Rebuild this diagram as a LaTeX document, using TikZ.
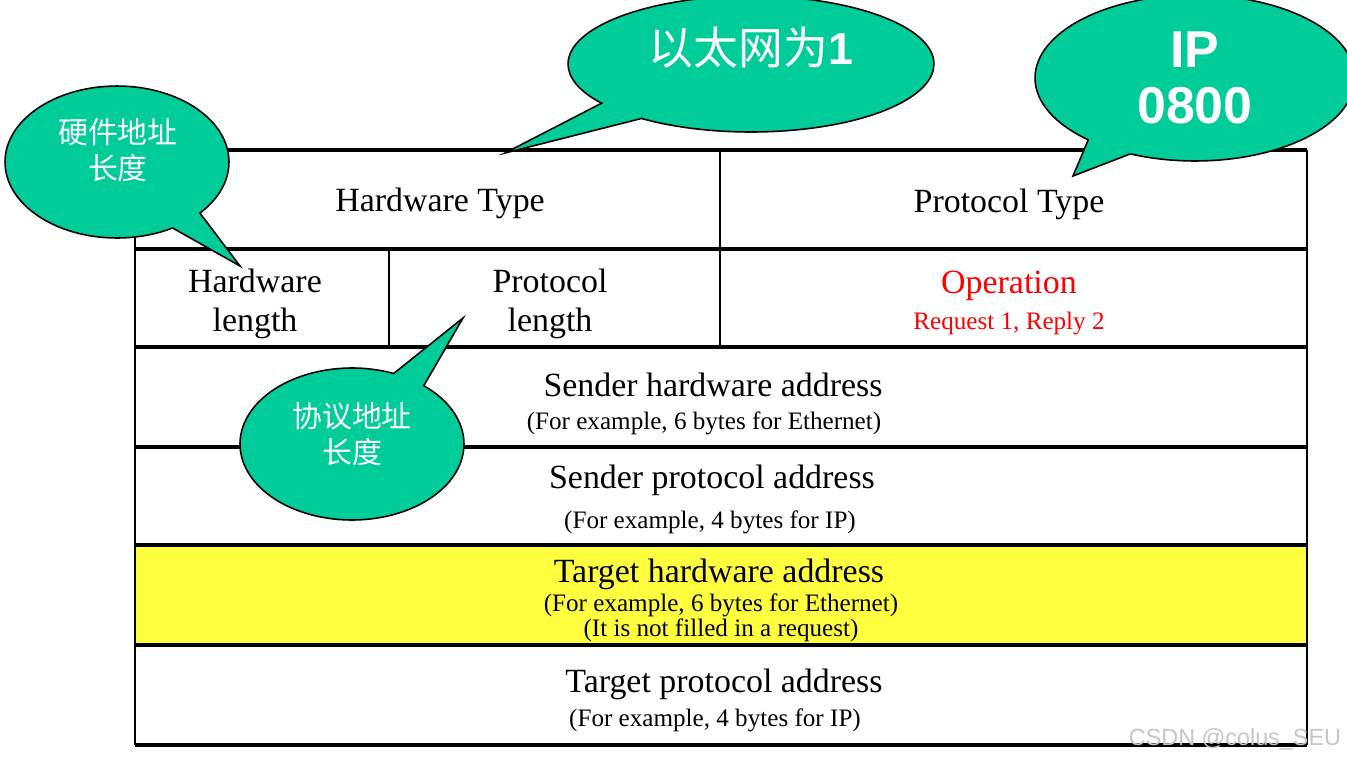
\documentclass[tikz,border=0pt]{standalone}
\usepackage{fontspec}
\setmainfont{Liberation Serif}
\newfontfamily\cjk{Noto Sans CJK SC}
\newfontfamily\arialfont{Liberation Sans}
\usepackage{xcolor}
\usepackage{tikz}
\usetikzlibrary{shapes.callouts}
\definecolor{tagcolor}{RGB}{0,204,153}
\definecolor{rowcolor}{RGB}{255,255,64}

\begin{document}
\begin{tikzpicture}[x=0.02cm, y=-0.02cm,
    hline/.style={line width=1.9pt},
    vline/.style={line width=1.2pt},
    cellbig/.style={font=\fontsize{19.3}{22.1}\selectfont, align=center},
    cellsmall/.style={font=\fontsize{14.3}{16}\selectfont},
    tag/.style={ellipse callout, draw=black, line width=0.9pt, fill=tagcolor, callout pointer arc=18},
    tagtext/.style={text=white, align=center}]
    \clip (0,0) rectangle (1347,762);

    % 1. Khung bang
    \fill[rowcolor] (135,545) rectangle (1307,645);
    \foreach \y in {150,249,347,447,545,645,745} {
        \draw[hline] (135,\y) -- (1307,\y);
    }
    \draw[vline] (135,150) -- (135,745);
    \draw[vline] (1307,150) -- (1307,745);
    \draw[vline] (720,150) -- (720,347);
    \draw[vline] (389,249) -- (389,347);

    % 2. Noi dung cac o
    \node[cellbig] (hwtype) at (440,203) {Hardware Type};
    \node[cellbig] (prtype) at (1009,204) {Protocol Type};
    \node[cellbig] (hwlen) at (255,304) {Hardware\\length};
    \node[cellbig] (prlen) at (550,304) {Protocol\\length};
    \node[cellbig, text=red] (op) at (1009,286) {Operation};
    \node[cellsmall, text=red] (opnote) at (1009,323) {Request 1, Reply 2};
    \node[cellbig] (sha) at (713,385) {Sender hardware address};
    \node[cellsmall] (shanote) at (704,423) {(For example, 6 bytes for Ethernet)};
    \node[cellbig] (spa) at (712,480) {Sender protocol address};
    \node[cellsmall] (spanote) at (710,522) {(For example, 4 bytes for IP)};
    \node[cellbig] (tha) at (719,574) {Target hardware address};
    \node[cellsmall] (thanote) at (721,605) {(For example, 6 bytes for Ethernet)};
    \node[cellsmall] (thanotetwo) at (721,630) {(It is not filled in a request)};
    \node[cellbig] (tpa) at (724,684) {Target protocol address};
    \node[cellsmall] (tpanote) at (715,720) {(For example, 4 bytes for IP)};

    % 3. Cac chu thich
    \coordinate (hwtip) at (240,266);
    \coordinate (ethtip) at (505,153);
    \coordinate (iptip) at (1073,176);
    \coordinate (prtip) at (463,318);

    \node[tag, minimum width=4.48cm, minimum height=3.04cm, callout absolute pointer={(hwtip)}] (hwtag) at (117,162) {};
    \node[tagtext, font=\cjk\fontsize{17}{20.4}\selectfont] (hwtagtext) at (118,150) {硬件地址\\长度};

    \node[tag, minimum width=7.32cm, minimum height=2.72cm, callout absolute pointer={(ethtip)}] (ethtag) at (751,64) {};
    \node[tagtext, font=\fontsize{25.5}{30}\selectfont] (ethtagtext) at (751,48) {{\cjk 以太网为}{\arialfont\bfseries 1}};

    \node[tag, minimum width=6.4cm, minimum height=3.32cm, callout absolute pointer={(iptip)}] (iptag) at (1195,78) {};
    \node[tagtext, font=\arialfont\bfseries\fontsize{29.5}{32.3}\selectfont] (iptagtext) at (1195,78) {IP\\0800};

    \node[tag, minimum width=4.48cm, minimum height=3.04cm, callout absolute pointer={(prtip)}] (prtag) at (352,444) {};
    \node[tagtext, font=\cjk\fontsize{17}{20.4}\selectfont] (prtagtext) at (352,434) {协议地址\\长度};

    % 4. Dau moc
    \node[font=\arialfont\fontsize{13.3}{15}\selectfont, text=gray!45] (mark) at (1235,739) {CSDN @colus\_SEU};
\end{tikzpicture}
\end{document}
